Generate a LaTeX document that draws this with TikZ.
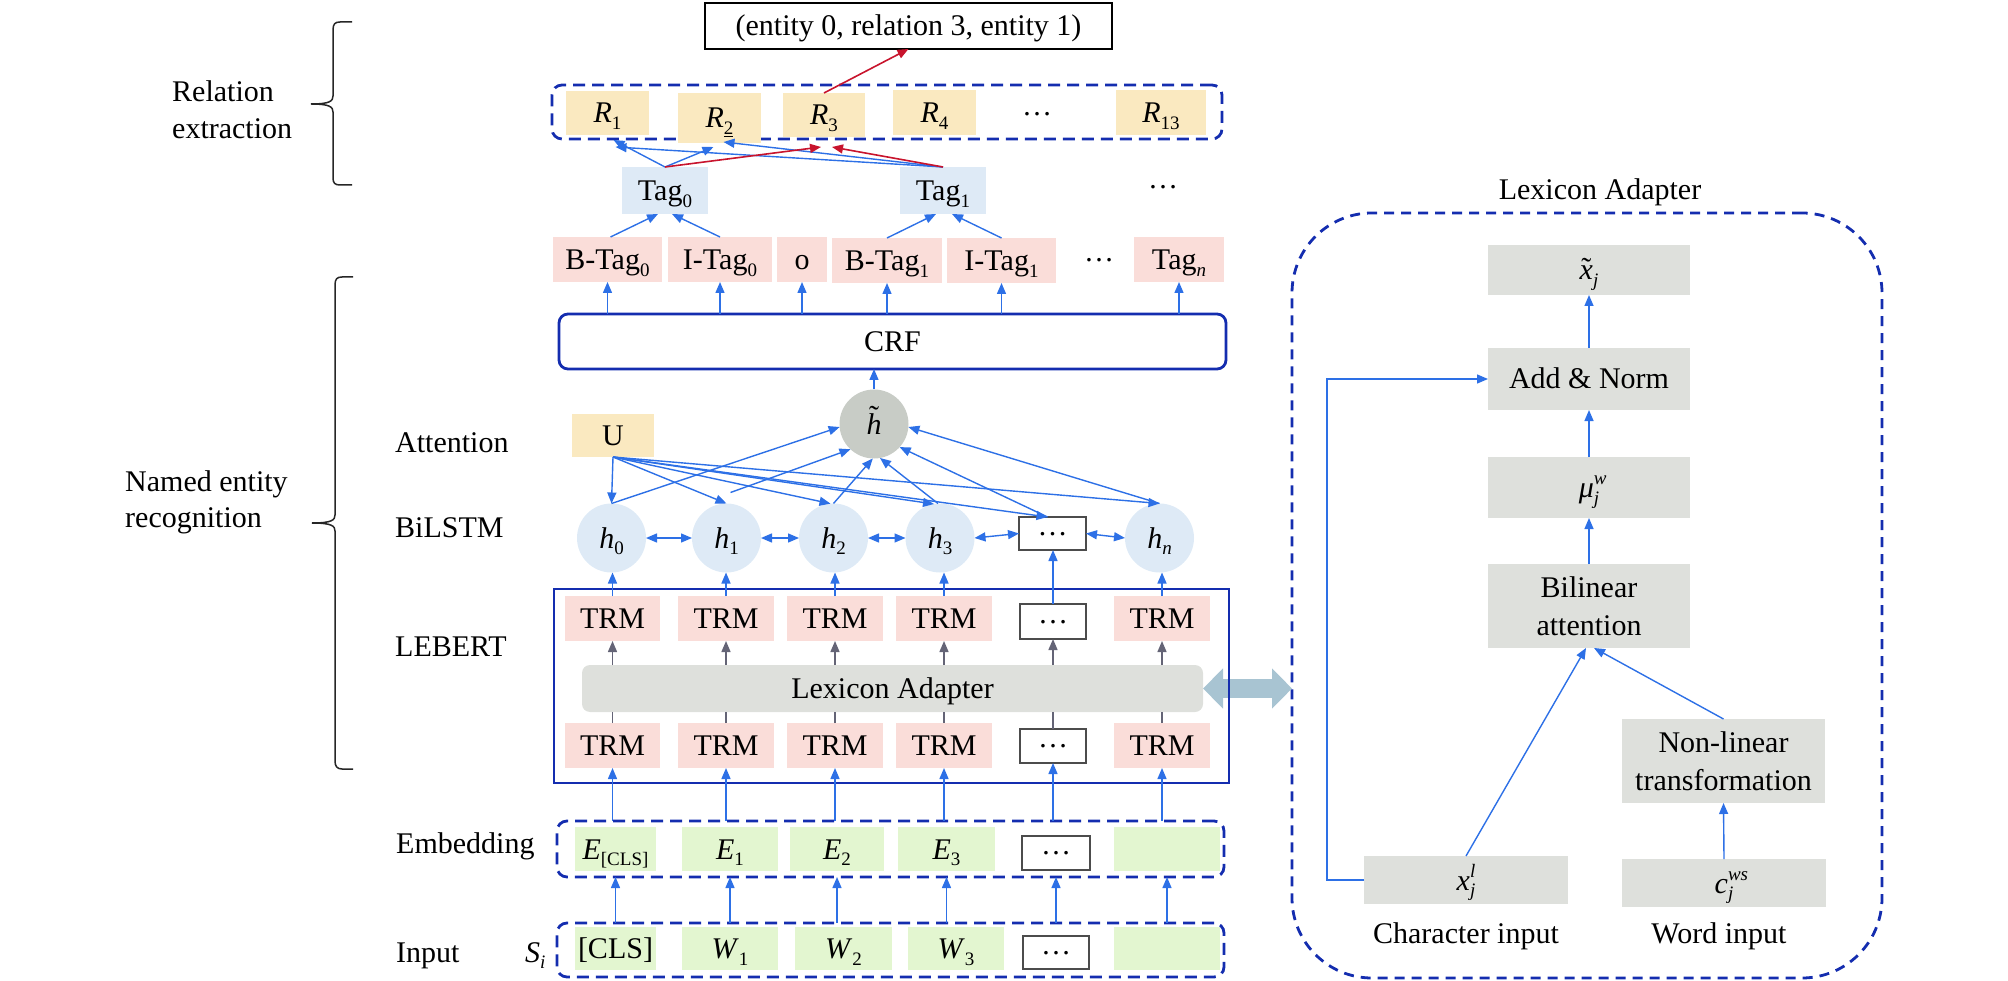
\documentclass[tikz,border=0pt]{standalone}
\usepackage{fontspec}
\setmainfont{Liberation Serif}
\usetikzlibrary{arrows.meta,calc}
\definecolor{cblue}{RGB}{45,112,230}
\definecolor{cdark}{RGB}{20,45,175}
\definecolor{cpink}{RGB}{250,221,217}
\definecolor{cyel}{RGB}{250,233,192}
\definecolor{clblue}{RGB}{222,234,246}
\definecolor{cgreen}{RGB}{227,246,208}
\definecolor{cgray}{RGB}{222,224,220}
\definecolor{chgray}{RGB}{200,204,198}
\definecolor{cred}{RGB}{200,20,45}
\definecolor{cagray}{RGB}{100,100,118}
\definecolor{cdbl}{RGB}{168,196,210}
\newcommand\mysub[1]{\raisebox{-0.22em}{\fontsize{19}{19}\selectfont #1}}
\newcommand\mysup[1]{\raisebox{0.42em}{\fontsize{19}{19}\selectfont #1}}
\newsavebox\mytbox
\newcommand\mytilde[2]{\sbox\mytbox{#2}\rlap{\makebox[\wd\mytbox]{\raisebox{#1}{\char"02DC}}}\usebox\mytbox}
\newcommand\mydots{\raisebox{8.5pt}{…}}
\newcommand\rbox[7]{\node[#2,minimum width={(#5-#3)*1pt},minimum height={(#6-#4)*1pt}] (#1) at ({(#3+#5)/2},{(#4+#6)/2}) {#7};}
\tikzset{
 bx/.style={inner sep=1pt, outer sep=0pt, text height=22pt, text depth=2pt},
 pinkb/.style={bx, fill=cpink},
 yelb/.style={bx, fill=cyel},
 blueb/.style={bx, fill=clblue},
 greenb/.style={bx, fill=cgreen},
 grayb/.style={bx, fill=cgray},
 grayml/.style={inner sep=1pt, outer sep=0pt, fill=cgray, align=center, font=\fontsize{30}{38}\selectfont},
 dotb/.style={bx, fill=white, draw=black!70, line width=1.6pt},
 dashb/.style={draw=cdark, line width=2.8pt, dash pattern=on 12pt off 7pt, rounded corners=10pt, outer sep=0pt},
 solidb/.style={draw=cdark, line width=2.8pt, outer sep=0pt},
 hcirc/.style={circle, fill=clblue, minimum size=69pt, inner sep=0pt, outer sep=0pt, text height=22pt, text depth=2pt},
 arr/.style={draw=cblue, line width=1.4pt, -{Triangle[length=11pt,width=9pt]}},
 darr/.style={draw=cblue, line width=1.4pt, {Triangle[length=11pt,width=9pt]}-{Triangle[length=11pt,width=9pt]}},
 garr/.style={draw=cagray, line width=1.4pt, -{Triangle[length=11pt,width=9pt]}},
 gline/.style={draw=cagray, line width=1.4pt},
 rarr/.style={draw=cred, line width=1.6pt, -{Triangle[length=11pt,width=9pt]}},
 lbl/.style={anchor=base west, inner sep=0pt},
 brace/.style={draw=black!85, line width=1.5pt},
}
\begin{document}
\begin{tikzpicture}[x=1pt,y=-1pt,font=\fontsize{30}{37}\selectfont]
\useasboundingbox (0,0) rectangle (2008,981);
% ---------- side labels and braces
\node[anchor=west, align=left, inner sep=0pt] (lrel) at (172,110) {Relation\\extraction};
\node[anchor=west, align=left, inner sep=0pt, font=\fontsize{30}{36}\selectfont] (lner) at (125,502) {Named entity\\recognition};
\draw[brace] (352,22) -- (340,22) .. controls (335,22) and (333,24) .. (333,30) -- (333,96) .. controls (333,101) and (330,104) .. (311,104) .. controls (330,104) and (333,107) .. (333,112) -- (333,178) .. controls (333,183) and (335,185) .. (340,185) -- (352,185);
\draw[brace] (353,277) -- (342,277) .. controls (337,277) and (335,279) .. (335,285) -- (335,515) .. controls (335,520) and (332,523) .. (312,523) .. controls (332,523) and (335,526) .. (335,531) -- (335,761) .. controls (335,766) and (337,769) .. (342,769) -- (353,769);
\node[lbl] (latt) at (395,452) {Attention};
\node[lbl] (lbil) at (395,537) {BiLSTM};
\node[lbl] (lleb) at (395,656) {LEBERT};
\node[lbl] (lemb) at (396,853) {Embedding};
\node[lbl] (linp) at (396,962) {Input};
\node[lbl] (lsi) at (525,962) {\textit{S}\mysub{\textit{i}}};
% ---------- relation extraction
\rbox{top}{draw=black, line width=1.8pt, fill=white, bx}{705}{3}{1112}{49}{(entity 0, relation 3, entity 1)}
\rbox{relbox}{dashb}{552}{85}{1222}{139}{}
\rbox{R1}{yelb}{566}{91}{649}{135}{\textit{R}\mysub{1}}
\rbox{R2}{yelb}{678}{93}{761}{143}{\textit{R}\mysub{\underline{2}}}
\rbox{R3}{yelb}{783}{93}{865}{137}{\textit{R}\mysub{3}}
\rbox{R4}{yelb}{893}{90}{976}{135}{\textit{R}\mysub{4}}
\rbox{R13}{yelb}{1116}{90}{1206}{135}{\textit{R}\mysub{13}}
\node[anchor=base, inner sep=0pt] (rdots) at (1037,116) {…};
\rbox{tag0}{blueb}{622}{167}{708}{214}{Tag\mysub{0}}
\rbox{tag1}{blueb}{900}{167}{986}{214}{Tag\mysub{1}}
\node[anchor=base, inner sep=0pt] (tdots) at (1163,189) {…};
% ---------- tags
\rbox{bt0}{pinkb}{553}{237}{662}{282}{B-Tag\mysub{0}}
\rbox{it0}{pinkb}{668}{237}{772}{282}{I-Tag\mysub{0}}
\rbox{oo}{pinkb}{777}{237}{827}{282}{o}
\rbox{bt1}{pinkb}{832}{238}{942}{283}{B-Tag\mysub{1}}
\rbox{it1}{pinkb}{947}{238}{1056}{283}{I-Tag\mysub{1}}
\node[anchor=base, inner sep=0pt] (gdots) at (1099,262) {…};
\rbox{tn}{pinkb}{1134}{237}{1224}{282}{Tag\mysub{\textit{n}}}
\rbox{crf}{solidb, rounded corners=9pt, bx}{559}{314}{1226}{369}{CRF}
% ---------- attention / bilstm
\node[hcirc, fill=chgray] (ht) at (874,424) {\mytilde{0.24em}{\textit{h}}};
\rbox{U}{yelb}{572}{414}{654}{457}{U}
\node[hcirc] (h0) at (611.5,538) {\textit{h}\mysub{0}};
\node[hcirc] (h1) at (726.5,538) {\textit{h}\mysub{1}};
\node[hcirc] (h2) at (833.5,538) {\textit{h}\mysub{2}};
\node[hcirc] (h3) at (940,538) {\textit{h}\mysub{3}};
\rbox{hd}{dotb}{1019}{517}{1086}{550}{\mydots}
\node[hcirc] (hn) at (1159.5,538) {\textit{h}\mysub{\textit{n}}};
% ---------- LEBERT
\rbox{lebert}{outer sep=0pt}{554}{589}{1229}{783}{}
\rbox{ta1}{pinkb}{565}{596}{660}{641}{TRM}
\rbox{ta2}{pinkb}{678}{596}{774}{641}{TRM}
\rbox{ta3}{pinkb}{787}{596}{883}{641}{TRM}
\rbox{ta4}{pinkb}{896}{596}{992}{641}{TRM}
\rbox{tad}{dotb}{1020}{604}{1086}{639}{\mydots}
\rbox{ta6}{pinkb}{1114}{596}{1210}{641}{TRM}
\rbox{bar}{grayb, rounded corners=8pt}{582}{665}{1203}{712}{Lexicon Adapter}
\rbox{tb1}{pinkb}{565}{723}{660}{768}{TRM}
\rbox{tb2}{pinkb}{678}{723}{774}{768}{TRM}
\rbox{tb3}{pinkb}{787}{723}{883}{768}{TRM}
\rbox{tb4}{pinkb}{896}{723}{992}{768}{TRM}
\rbox{tbd}{dotb}{1020}{729}{1086}{763}{\mydots}
\rbox{tb6}{pinkb}{1114}{723}{1210}{768}{TRM}
% ---------- embedding / input
\rbox{emb}{dashb}{557}{821}{1224}{877}{}
\rbox{e1}{greenb}{575}{827}{656}{871}{\textit{E}\mysub{[CLS]}}
\rbox{e2}{greenb}{682}{827}{778}{871}{\textit{E}\mysub{1}}
\rbox{e3}{greenb}{790}{827}{884}{871}{\textit{E}\mysub{2}}
\rbox{e4}{greenb}{898}{827}{995}{871}{\textit{E}\mysub{3}}
\rbox{ed}{dotb}{1022}{836}{1090}{870}{\mydots}
\rbox{e6}{greenb}{1114}{827}{1220}{871}{}
\rbox{inp}{dashb}{557}{923}{1224}{977}{}
\rbox{w1}{greenb}{575}{927}{656}{970}{[CLS]}
\rbox{w2}{greenb}{682}{927}{778}{970}{\textit{W}\mysub{1}}
\rbox{w3}{greenb}{795}{927}{892}{970}{\textit{W}\mysub{2}}
\rbox{w4}{greenb}{908}{927}{1004}{970}{\textit{W}\mysub{3}}
\rbox{wd}{dotb}{1023}{936}{1089}{969}{\mydots}
\rbox{w6}{greenb}{1114}{927}{1220}{970}{}
% ---------- lexicon adapter panel
\node[anchor=base] (ltitle) at (1600,200) {Lexicon Adapter};
\rbox{panel}{dashb, rounded corners=80pt, dash pattern=on 10pt off 7pt}{1292}{213}{1882}{978}{}
\rbox{xt}{grayb}{1488}{245}{1690}{295}{\mytilde{0.04em}{\textit{x}}\mysub{\textit{j}}}
\rbox{add}{grayb}{1488}{348}{1690}{410}{Add \& Norm}
\rbox{mu}{grayb}{1488}{457}{1690}{518}{\textit{μ}\rlap{\mysup{\textit{w}}}\mysub{\textit{j}}}
\rbox{bil}{grayml}{1488}{564}{1690}{648}{Bilinear\\attention}
\rbox{nl}{grayml}{1622}{719}{1825}{803}{Non-linear\\transformation}
\rbox{xl}{grayb}{1364}{856}{1568}{904}{\textit{x}\rlap{\mysup{\textit{l}}}\mysub{\textit{j}}}
\rbox{cw}{grayb}{1622}{859}{1826}{907}{\textit{c}\rlap{\mysup{\textit{ws}}}\mysub{\textit{j}}}
\node[anchor=base] (lchar) at (1466,943) {Character input};
\node[anchor=base] (lword) at (1719,943) {Word input};
% ---------- double arrow and LEBERT frame
\draw[cdbl, line width=19pt, {Triangle[length=20pt,width=39pt]}-{Triangle[length=20pt,width=39pt]}] (bar.east) -- (bar.east -| panel.west);
\draw[solidb] (lebert.north west) rectangle (lebert.south east);
% ---------- connectors: input to LEBERT
\foreach \n in {e1,e2,e3,e4,ed,e6} \draw[arr] (\n.south |- inp.north) -- (\n.south |- emb.south);
\foreach \n in {tb1,tb2,tb3,tb4,tbd,tb6} \draw[arr] (\n.south |- emb.north) -- (\n.south);
\foreach \n in {tb1,tb2,tb3,tb4,tbd,tb6} \draw[gline] (\n.north) -- (\n.north |- bar.south);
\foreach \n in {ta1,ta2,ta3,ta4,tad,ta6} \draw[garr] (\n.south |- bar.north) -- (\n.south);
\foreach \a/\b in {ta1/h0,ta2/h1,ta3/h2,ta4/h3,tad/hd,ta6/hn} \draw[arr] (\a.north) -- (\a.north |- \b.south);
% BiLSTM links
\draw[darr] (h0.east) -- (h1.west);
\draw[darr] (h1.east) -- (h2.west);
\draw[darr] (h2.east) -- (h3.west);
\draw[darr] (h3.east) -- (hd.west);
\draw[darr] (hd.east) -- (hn.west);
% attention
\draw[arr] (U.south) -- (h0.north);
\draw[arr] (U.south) -- (h1.north);
\draw[arr] (U.south) -- (h2.95);
\draw[arr] (U.south) -- (h3.100);
\draw[arr] (U.south) -- ($(hd.north)+(-5,0)$);
\draw[arr] (U.south) -- (hn.north);
\draw[arr] (h0.north) -- (ht.185);
\draw[arr] ($(h1.north)+(4,-11)$) -- (ht.227);
\draw[arr] (h2.north) -- (ht.268);
\draw[arr] ($(h3.north)+(-2,0)$) -- (ht.280);
\draw[arr] ($(hd.north)+(-5,0)$) -- (ht.318);
\draw[arr] (hn.north) -- (ht.355);
\draw[arr] (ht.north) -- (ht.north |- crf.south);
% CRF to tags
\foreach \n in {bt0,it0,oo,bt1,it1,tn} \draw[arr] (\n.south |- crf.north) -- (\n.south);
\draw[arr] ($(bt0.north)+(3,0)$) -- ($(tag0.south)+(-7,0)$);
\draw[arr] (it0.north) -- ($(tag0.south)+(7,0)$);
\draw[arr] (bt1.north) -- ($(tag1.south)+(-7,0)$);
\draw[arr] (it1.north) -- ($(tag1.south)+(9,0)$);
% tags to relations
\draw[arr] (tag0.north) -- ($(R1.south)+(6,5)$);
\draw[arr] (tag0.north) -- ($(R2.south)+(-6,4)$);
\draw[arr] (tag1.north) -- ($(R1.south)+(8,12)$);
\draw[arr] (tag1.north) -- ($(R2.south)+(4,-1)$);
\draw[rarr] (tag0.north) -- ($(R3.south)+(-3,10)$);
\draw[rarr] (tag1.north) -- ($(R3.south)+(8,10)$);
\draw[rarr] (R3.north) -- (top.south);
% lexicon adapter internals
\draw[arr] (add.north) -- (xt.south);
\draw[arr] (mu.north) -- (add.south);
\draw[arr] (bil.north) -- (mu.south);
\draw[arr] (xl.north) -- ($(bil.south)+(-3,0)$);
\draw[arr] (nl.north) -- ($(bil.south)+(5,0)$);
\draw[arr] (cw.north) -- (nl.south);
\draw[arr] (xl.west) -- ++(-37,0) |- (add.west);
\end{tikzpicture}
\end{document}
